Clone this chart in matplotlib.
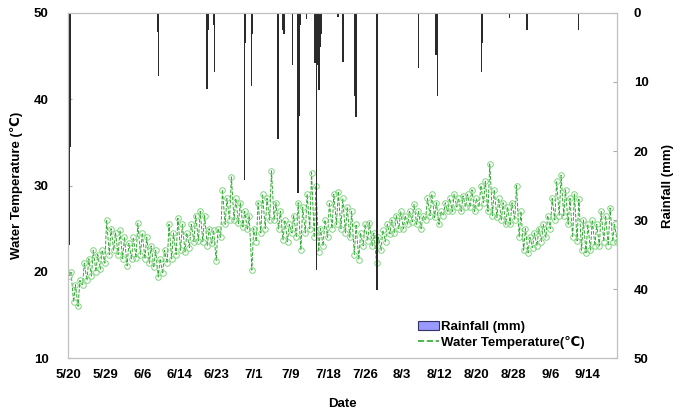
import numpy as np
import matplotlib
matplotlib.use('Agg')
import matplotlib.pyplot as plt
from matplotlib.patches import Patch
from matplotlib.lines import Line2D

plt.rcParams['font.family'] = ['Liberation Sans', 'DejaVu Sans']
plt.rcParams['font.weight'] = 'bold'

# daily low / high water temperature (deg C), day 0 = 5/20
t_min = [19.5, 16.5, 16.0, 18.5, 19.0, 19.5, 20.0, 20.3, 21.0, 22.0,
         22.5, 22.0, 21.5, 20.7, 21.5, 21.6, 22.0, 21.5, 21.0, 20.5,
         19.4, 19.8, 21.0, 21.5, 22.0, 22.5, 22.3, 22.8, 23.5, 23.6,
         23.5, 23.0, 23.3, 21.3, 24.0, 25.5, 26.0, 26.0, 25.6, 25.2,
         24.9, 20.2, 23.5, 24.5, 25.0, 26.0, 26.0, 25.0, 23.7, 23.5,
         24.5, 24.0, 22.5, 24.5, 25.0, 24.0, 22.3, 23.0, 24.0, 25.0,
         25.5, 25.0, 24.5, 24.0, 22.0, 21.4, 23.0, 23.6, 23.0, 21.0,
         22.5, 23.5, 24.4, 24.5, 25.0, 25.0, 25.5, 25.8, 25.5, 25.0,
         26.0, 26.5, 26.3, 25.5, 26.5, 27.0, 27.0, 27.5, 27.0, 27.5,
         27.5, 27.0, 27.5, 28.0, 27.0, 26.5, 26.3, 26.0, 25.5, 25.5,
         26.0, 24.0, 22.5, 22.2, 22.8, 23.0, 23.5, 24.0, 25.0, 26.0,
         26.5, 26.5, 25.5, 24.0, 23.6, 22.5, 22.2, 22.5, 23.0, 23.0,
         23.5, 23.0, 23.5, 23.5]
t_max = [20.0, 18.5, 19.0, 21.0, 21.5, 22.5, 22.0, 22.5, 26.0, 25.0,
         24.5, 24.8, 24.0, 23.3, 24.0, 25.6, 24.5, 24.0, 23.0, 22.5,
         21.5, 22.5, 25.5, 24.5, 26.2, 25.5, 24.5, 25.5, 26.5, 27.0,
         26.5, 25.0, 24.8, 25.0, 29.5, 28.5, 31.0, 28.5, 28.0, 27.0,
         26.5, 25.0, 28.0, 29.0, 28.5, 31.7, 28.0, 27.0, 26.0, 25.5,
         26.5, 28.0, 27.5, 29.0, 31.5, 30.0, 25.0, 26.0, 28.0, 29.0,
         29.3, 28.5, 27.5, 27.0, 25.5, 24.5, 25.5, 25.7, 24.5, 24.0,
         24.8, 25.5, 26.0, 26.5, 27.0, 26.5, 27.0, 27.8, 27.0, 26.5,
         28.5, 29.0, 28.0, 27.0, 28.0, 28.5, 29.0, 28.5, 28.8, 29.0,
         29.5, 28.5, 30.0, 30.5, 32.5, 29.5, 28.5, 28.0, 27.5, 28.0,
         30.0, 27.0, 25.0, 24.0, 24.5, 25.0, 25.5, 26.5, 28.5, 30.5,
         31.2, 29.5, 28.5, 29.0, 28.4, 26.0, 25.5, 26.0, 25.5, 27.0,
         26.5, 27.4, 25.5, 24.5]

# rainfall events: day after 5/20 and amount (mm)
rain_day = [0.2, 0.35, 0.5, 20.1, 20.3, 31.2, 31.4, 32.6, 32.8, 39.6,
            39.8, 41.2, 41.4, 47.1, 47.3, 48.2, 48.5, 50.3, 51.6, 51.8,
            52.2, 53.5, 55.4, 55.7, 55.9, 56.3, 56.6, 56.9, 60.6, 61.7,
            64.4, 64.6, 69.2, 69.3, 78.6, 82.6, 82.9, 92.8, 93.0, 99.1,
            103.0, 114.5]
rain_mm = [9.0, 33.6, 19.4, 2.7, 9.1, 11.0, 2.5, 1.7, 8.6, 24.2,
           4.4, 10.6, 3.0, 18.2, 5.4, 2.5, 3.0, 7.5, 26.1, 15.0,
           1.7, 0.8, 7.3, 37.2, 7.5, 11.1, 5.0, 3.0, 0.6, 7.1,
           12.1, 15.1, 21.5, 40.1, 8.0, 6.1, 12.1, 8.5, 4.4, 0.7,
           2.5, 2.5]

tick_labels = ['5/20', '5/29', '6/6', '6/14', '6/23', '7/1', '7/9', '7/18',
               '7/26', '8/3', '8/12', '8/20', '8/28', '9/6', '9/14']

# interleave lows (early morning) and highs (afternoon)
days = np.arange(len(t_min))
t_x = np.column_stack([days + 0.25, days + 0.65]).ravel()
t_y = np.column_stack([t_min, t_max]).ravel()

fig = plt.figure(figsize=(6.74, 4.15), dpi=100)
ax = fig.add_axes([0.101, 0.1373, 0.8144, 0.8314])

ax.plot(t_x, t_y, color='#2ea82e', ls='--', lw=0.7, marker='o', ms=4,
        mfc='none', mec='#7fd47f', mew=0.7)
ax.set_xlim(0, 123.2)
ax.set_ylim(10, 50)
ax.set_yticks([10, 20, 30, 40, 50])
ax.set_xticks(np.arange(len(tick_labels)) * 200 / 24)
ax.set_xticklabels(tick_labels)
ax.tick_params(axis='x', length=0, pad=8, labelsize=9.5)
ax.tick_params(axis='y', direction='in', length=3, color='#aaaaaa', pad=14, labelsize=9.5)
for s in ax.spines.values():
    s.set_color('#c0c0c0')
ax.set_xlabel('Date', fontsize=9.5, fontweight='bold', labelpad=12)
ax.set_ylabel('Water Temperature (℃)', fontsize=9.5, fontweight='bold', labelpad=8)

ax2 = ax.twinx()
ax2.bar(rain_day, rain_mm, width=0.3, color='#2a2a2a', lw=0)
ax2.set_ylim(50, 0)
ax2.set_yticks([0, 10, 20, 30, 40, 50])
ax2.tick_params(axis='y', direction='in', length=3, color='#aaaaaa', pad=12, labelsize=9.5)
for s in ax2.spines.values():
    s.set_color('#c0c0c0')
ax2.set_ylabel('Rainfall (mm)', fontsize=9.5, fontweight='bold', labelpad=10)

handles = [Patch(facecolor='#9999ff', edgecolor='#333366', lw=0.8),
           Line2D([0], [0], color='#2ea82e', ls='--', lw=1.2)]
ax2.legend(handles, ['Rainfall (mm)', 'Water Temperature(℃)'], loc='lower left',
           bbox_to_anchor=(0.62, 0.0), frameon=False, fontsize=9.5,
           handlelength=1.6, handletextpad=0.2, labelspacing=0.2, borderpad=0.2)

fig.savefig('out.png', dpi=100)
